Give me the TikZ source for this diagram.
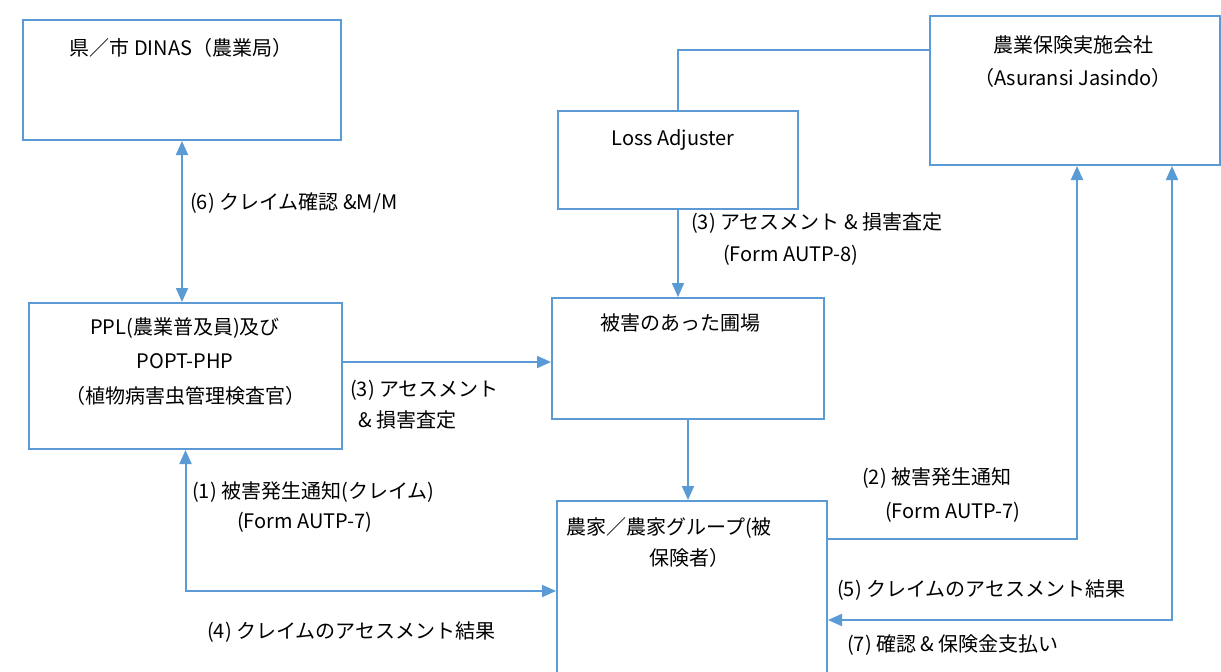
\documentclass[tikz,border=0pt]{standalone}
\usepackage{fontspec}
\setmainfont{Noto Sans CJK JP}
\usetikzlibrary{arrows.meta}
\definecolor{ln}{RGB}{91,155,213}
\begin{document}
\begin{tikzpicture}[x=1pt,y=-1pt,
  every node/.style={font=\fontsize{20}{24}\selectfont, inner sep=0pt},
  box/.style={draw=ln, line width=2pt, rectangle, anchor=north west},
  conn/.style={draw=ln, line width=2pt},
  lbl/.style={anchor=west},
  >={Triangle[length=14pt,width=12pt]}]
\useasboundingbox[fill=white] (0,0) rectangle (1221,672);
% boxes
\node[box, minimum width=318pt, minimum height=120pt] (dinas) at (22,19) {};
\node[box, minimum width=313pt, minimum height=146pt] (ppl) at (28,302) {};
\node[box, minimum width=240pt, minimum height=98pt] (la) at (557,110) {};
\node[box, minimum width=290pt, minimum height=149pt] (ins) at (929,15) {};
\node[box, minimum width=272pt, minimum height=121pt] (field) at (551,297) {};
\node[box, minimum width=270pt, minimum height=180pt] (farmer) at (556,500) {};
% box texts
\node (tdinas) at (181,48) {県／市 DINAS（農業局）};
\node (tppl1) at (185,328) {PPL(農業普及員)及び};
\node (tppl2) at (185,361) {POPT-PHP};
\node (tppl3) at (185,396) {（植物病害虫管理検査官）};
\node (tla) at (673,140) {Loss Adjuster};
\node (tins1) at (1073,45) {農業保険実施会社};
\node (tins2) at (1073,78) {（Asuransi Jasindo）};
\node (tfield) at (680,323) {被害のあった圃場};
\node (tfarm1) at (669,528) {農家／農家グループ(被};
\node (tfarm2) at (689,558) {保険者）};
% connectors
\draw[conn,<->] (dinas.south) -- (dinas.south |- ppl.north);
\draw[conn,->] ([yshift=14pt]ppl.east) -- ([yshift=14pt]ppl.east -| field.west);
\draw[conn,->] (la.south) -- (la.south |- field.north);
\draw[conn] (la.north) |- ([yshift=41pt]ins.west);
\draw[conn,->] (field.south) -- (field.south |- farmer.north);
\draw[conn,<->] (ppl.south) |- (farmer.west);
\draw[conn,->] ([yshift=52pt]farmer.east) -| ([xshift=2pt]ins.south);
\draw[conn,<->] ([yshift=-29pt]farmer.east) -| ([xshift=97pt]ins.south);
% labels
\node[lbl] (l6) at (190,203) {(6) クレイム確認 \&M/M};
\node[lbl] (l3a) at (350,390) {(3) アセスメント};
\node[lbl] (l3b) at (358,420) {\& 損害査定};
\node[lbl] (l3c) at (691,223) {(3) アセスメント \& 損害査定};
\node[lbl] (l3d) at (723,255) {(Form AUTP-8)};
\node[lbl] (l1a) at (192,492) {(1) 被害発生通知(クレイム)};
\node[lbl] (l1b) at (237,522) {(Form AUTP-7)};
\node[lbl] (l4) at (207,632) {(4) クレイムのアセスメント結果};
\node[lbl] (l2a) at (862,478) {(2) 被害発生通知};
\node[lbl] (l2b) at (885,512) {(Form AUTP-7)};
\node[lbl] (l5) at (837,590) {(5) クレイムのアセスメント結果};
\node[lbl] (l7) at (847,645) {(7) 確認 \& 保険金支払い};
\end{tikzpicture}
\end{document}
